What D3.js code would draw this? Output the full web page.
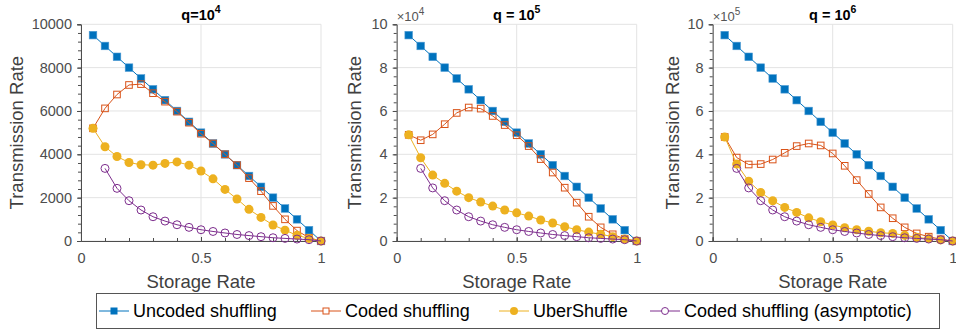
<!DOCTYPE html>
<html>
<head>
<meta charset="utf-8">
<script src="https://cdn.jsdelivr.net/npm/d3@7"></script>
<style>
  body { margin: 0; background: #fff; }
  svg { font-family: "Liberation Sans", Arial, sans-serif; }
</style>
</head>
<body>
<div id="chart"></div>
<script>
// storage rate on the x axis
const storage = [0.05, 0.1, 0.15, 0.2, 0.25, 0.3, 0.35, 0.4, 0.45, 0.5,
                 0.55, 0.6, 0.65, 0.7, 0.75, 0.8, 0.85, 0.9, 0.95, 1.0];

// q = 10^4 (plain units)
const uncodedQ4 = [9500, 9000, 8500, 8000, 7500, 7000, 6500, 6000, 5500, 5000,
                   4500, 4000, 3500, 3000, 2500, 2000, 1500, 1000, 500, 0];
const codedQ4 = [5200, 6120, 6760, 7200, 7240, 6820, 6430, 5970, 5460, 4950,
                 4500, 4000, 3500, 2900, 2300, 1620, 1000, 480, 150, 0];
const uberQ4 = [5200, 4350, 3900, 3620, 3520, 3500, 3580, 3650, 3500, 3230,
                2870, 2380, 1940, 1460, 1090, 740, 500, 260, 120, 0];
const asymQ4 = [null, 3350, 2430, 1860, 1430, 1120, 920, 750, 630, 520,
                440, 370, 300, 250, 200, 150, 120, 90, 60, 0];

// q = 10^5 (x10^4 units)
const uncodedQ5 = [9.5, 9, 8.5, 8, 7.5, 7, 6.5, 6, 5.5, 5,
                   4.5, 4, 3.5, 3, 2.5, 2, 1.5, 1, 0.5, 0];
const codedQ5 = [4.9, 4.65, 4.92, 5.39, 5.91, 6.16, 6.11, 5.77, 5.35, 4.88,
                 4.38, 3.78, 3.16, 2.46, 1.77, 1.12, 0.63, 0.31, 0.1, 0];
const uberQ5 = [4.9, 3.84, 3.04, 2.66, 2.3, 2.0, 1.8, 1.61, 1.43, 1.3,
                1.15, 0.97, 0.83, 0.66, 0.52, 0.41, 0.31, 0.2, 0.09, 0];
const asymQ5 = [null, 3.35, 2.45, 1.86, 1.43, 1.12, 0.92, 0.75, 0.63, 0.52,
                0.44, 0.37, 0.3, 0.25, 0.2, 0.15, 0.12, 0.09, 0.06, 0];

// q = 10^6 (x10^5 units)
const uncodedQ6 = [9.5, 9, 8.5, 8, 7.5, 7, 6.5, 6, 5.5, 5,
                   4.5, 4, 3.5, 3, 2.5, 2, 1.5, 1, 0.5, 0];
const codedQ6 = [4.8, 3.85, 3.53, 3.55, 3.76, 4.07, 4.38, 4.5, 4.41, 4.04,
                 3.47, 2.81, 2.17, 1.55, 1.05, 0.63, 0.35, 0.2, 0.08, 0];
const uberQ6 = [4.8, 3.55, 2.76, 2.24, 1.86, 1.55, 1.32, 1.07, 0.89, 0.74,
                0.61, 0.52, 0.45, 0.38, 0.35, 0.26, 0.17, 0.11, 0.05, 0];
const asymQ6 = [null, 3.35, 2.45, 1.86, 1.43, 1.12, 0.92, 0.75, 0.63, 0.52,
                0.44, 0.37, 0.3, 0.25, 0.2, 0.15, 0.12, 0.09, 0.06, 0];

const seriesNames = ["Uncoded shuffling", "Coded shuffling", "UberShuffle", "Coded shuffling (asymptotic)"];
const colors = ["#0072BD", "#D95319", "#EDB120", "#7E2F8E"];

const yTicksQ4 = [0, 2000, 4000, 6000, 8000, 10000];
const yTicksScaled = [0, 2, 4, 6, 8, 10];
const xTicks = [0, 0.5, 1];

const panels = [
  {exp: "4", title: "q=10", mult: null, yMax: 10000, yTicks: yTicksQ4, minor: 400,
   series: [uncodedQ4, codedQ4, uberQ4, asymQ4], x0: 81, labelX: 17},
  {exp: "5", title: "q = 10", mult: "4", yMax: 10, yTicks: yTicksScaled, minor: 0.4,
   series: [uncodedQ5, codedQ5, uberQ5, asymQ5], x0: 396.7, labelX: 355},
  {exp: "6", title: "q = 10", mult: "5", yMax: 10, yTicks: yTicksScaled, minor: 0.4,
   series: [uncodedQ6, codedQ6, uberQ6, asymQ6], x0: 712.7, labelX: 673}
];

const W = 956, H = 331;
const pw = 240, plotTop = 24.3, plotBottom = 241;
const axisCol = "#4d4d4d", gridCol = "#e3e3e3";

const svg = d3.select("#chart").append("svg")
  .attr("width", W).attr("height", H);

panels.forEach(function(p) {
  const g = svg.append("g");
  const x = d3.scaleLinear().domain([0, 1]).range([p.x0, p.x0 + pw]);
  const y = d3.scaleLinear().domain([0, p.yMax]).range([plotBottom, plotTop]);

  // grid
  g.selectAll(".gy").data(p.yTicks).join("line")
    .attr("x1", x(0)).attr("x2", x(1))
    .attr("y1", d => y(d)).attr("y2", d => y(d))
    .attr("stroke", gridCol).attr("stroke-width", 1);
  g.selectAll(".gx").data(xTicks).join("line")
    .attr("x1", d => x(d)).attr("x2", d => x(d))
    .attr("y1", y(0)).attr("y2", y(p.yMax))
    .attr("stroke", gridCol).attr("stroke-width", 1);

  // axes
  const yAxis = g.append("g")
    .attr("transform", `translate(${x(0)},0)`)
    .call(d3.axisLeft(y).tickValues(p.yTicks).tickSize(4).tickPadding(5)
      .tickFormat(d3.format("d")));
  const yMinor = d3.range(0, p.yMax + 1e-9, p.minor);
  g.append("g").attr("transform", `translate(${x(0)},0)`)
    .call(d3.axisLeft(y).tickValues(yMinor).tickSize(3).tickFormat(""))
    .call(s => s.select(".domain").remove());

  const xAxis = g.append("g")
    .attr("transform", `translate(0,${y(0)})`)
    .call(d3.axisBottom(x).tickValues(xTicks).tickSize(-4).tickPadding(12)
      .tickFormat(d => d === 0.5 ? "0.5" : d3.format("d")(d)));
  g.append("g").attr("transform", `translate(0,${y(0)})`)
    .call(d3.axisBottom(x).tickValues(d3.range(0, 1.0001, 0.1)).tickSize(-3).tickFormat(""))
    .call(s => s.select(".domain").remove());

  [yAxis, xAxis].forEach(a => {
    a.select(".domain").attr("stroke", axisCol);
    a.selectAll("text").attr("fill", "#4d4d4d").style("font-size", "14.5px")
      .style("font-family", "Liberation Sans, Arial, sans-serif");
  });
  g.selectAll(".tick line").attr("stroke", axisCol);

  // labels
  g.append("text")
    .attr("transform", `translate(${p.labelX},${(plotTop + plotBottom) / 2}) rotate(-90)`)
    .attr("text-anchor", "middle").attr("dy", "0.35em")
    .attr("fill", "#404040").style("font-size", "18.5px")
    .text("Transmission Rate");
  g.append("text")
    .attr("x", x(0.5)).attr("y", 288)
    .attr("text-anchor", "middle")
    .attr("fill", "#404040").style("font-size", "18.5px")
    .text("Storage Rate");

  const t = g.append("text")
    .attr("x", x(0.5)).attr("y", 20)
    .attr("text-anchor", "middle")
    .attr("fill", "#000").style("font-size", "14.5px").style("font-weight", "bold");
  t.append("tspan").text(p.title);
  t.append("tspan").attr("dy", -7).style("font-size", "10.5px").text(p.exp);

  if (p.mult) {
    const m = g.append("text").attr("x", x(0)).attr("y", 21)
      .attr("fill", "#555").style("font-size", "13px");
    m.append("tspan").text("\u00d710");
    m.append("tspan").attr("dy", -6).style("font-size", "10px").text(p.mult);
  }

  // series
  p.series.forEach(function(vals, si) {
    const pts = storage.map((s, i) => ({x: s, y: vals[i]})).filter(d => d.y !== null);
    const line = d3.line().x(d => x(d.x)).y(d => y(d.y));
    g.append("path").datum(pts)
      .attr("d", line).attr("fill", "none")
      .attr("stroke", colors[si]).attr("stroke-width", 1);
    const mk = g.append("g");
    if (si === 0) {
      mk.selectAll("rect").data(pts).join("rect")
        .attr("x", d => x(d.x) - 3.8).attr("y", d => y(d.y) - 3.8)
        .attr("width", 7.6).attr("height", 7.6)
        .attr("fill", colors[0]).attr("stroke", "#4d9ad3").attr("stroke-width", 0.6);
    } else if (si === 1) {
      mk.selectAll("rect").data(pts).join("rect")
        .attr("x", d => x(d.x) - 3.3).attr("y", d => y(d.y) - 3.3)
        .attr("width", 6.6).attr("height", 6.6)
        .attr("fill", "none").attr("stroke", colors[1]).attr("stroke-width", 1);
    } else if (si === 2) {
      mk.selectAll("circle").data(pts).join("circle")
        .attr("cx", d => x(d.x)).attr("cy", d => y(d.y)).attr("r", 4.5)
        .attr("fill", colors[2]);
    } else {
      mk.selectAll("circle").data(pts).join("circle")
        .attr("cx", d => x(d.x)).attr("cy", d => y(d.y)).attr("r", 4)
        .attr("fill", "none").attr("stroke", colors[3]).attr("stroke-width", 1);
    }
  });
});

// legend
const leg = svg.append("g");
leg.append("rect").attr("x", 96.5).attr("y", 293.5).attr("width", 843).attr("height", 35)
  .attr("fill", "#fff").attr("stroke", "#555").attr("stroke-width", 1);
const legX = [99, 311, 499, 650];
seriesNames.forEach(function(name, i) {
  const lx = legX[i], ly = 311;
  leg.append("line").attr("x1", lx).attr("x2", lx + 30).attr("y1", ly).attr("y2", ly)
    .attr("stroke", colors[i]).attr("stroke-width", 1);
  const cx = lx + 15;
  if (i === 0) leg.append("rect").attr("x", cx - 3.5).attr("y", ly - 3.5).attr("width", 7).attr("height", 7).attr("fill", colors[0]);
  if (i === 1) leg.append("rect").attr("x", cx - 3).attr("y", ly - 3).attr("width", 6).attr("height", 6).attr("fill", "#fff").attr("stroke", colors[1]);
  if (i === 2) leg.append("circle").attr("cx", cx).attr("cy", ly).attr("r", 4).attr("fill", colors[2]);
  if (i === 3) leg.append("circle").attr("cx", cx).attr("cy", ly).attr("r", 3.5).attr("fill", "#fff").attr("stroke", colors[3]);
  leg.append("text").attr("x", lx + 34).attr("y", ly).attr("dy", "0.35em")
    .attr("fill", "#000").style("font-size", "18px").text(name);
});
</script>
</body>
</html>
